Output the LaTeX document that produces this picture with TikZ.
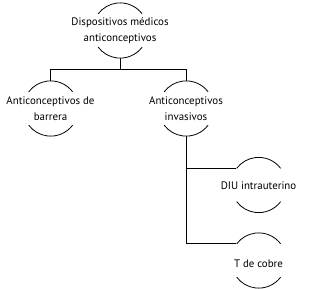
\documentclass[tikz,border=0pt]{standalone}
\usepackage{fontspec}
\setmainfont{PT Sans}
\usetikzlibrary{positioning,calc}

\tikzset{
  ring/.style={circle, minimum size=55pt, inner sep=0pt},
  lbl/.style={align=center, font=\fontsize{10.9}{16}\selectfont, inner sep=0pt},
  wire/.style={draw=black, line width=0.8pt}
}

\begin{document}
\begin{tikzpicture}[x=1pt, y=1pt]
\useasboundingbox (0,0) rectangle (311,-289);

% rings (only the top and bottom arcs get drawn)
\node[ring] (root) at (120,-30.5) {};
\node[ring] (barr) at (50.5,-108.5) {};
\node[ring] (inv)  at (186,-108.5) {};
\node[ring] (diu)  at (258.5,-185) {};
\node[ring] (tcu)  at (258.5,-260.5) {};

% texts
\node[lbl] (root-t) at (root) {Dispositivos médicos\\anticonceptivos};
\node[lbl] (barr-t) at (barr) {Anticonceptivos de\\barrera};
\node[lbl] (inv-t)  at (inv)  {Anticonceptivos\\invasivos};
\node[lbl] (diu-t)  at ($(diu)+(0,-1)$) {DIU intrauterino};
\node[lbl] (tcu-t)  at ($(tcu)+(0,-3)$) {T de cobre};

\foreach \n in {root,barr,inv,diu,tcu} {
  \draw[wire] (\n.37) arc[start angle=37, end angle=143, radius=27.5pt];
  \draw[wire] (\n.-37) arc[start angle=-37, end angle=-143, radius=27.5pt];
}

% connectors
\coordinate (fork) at ($(root.south)+(0,-11)$);
\draw[wire] (root.south) -- (fork);
\draw[wire] (fork) -| (barr.north);
\draw[wire] (fork) -| (inv.north);
\draw[wire] (inv.south) |- (diu.143);
\draw[wire] (inv.south) |- (tcu.143);
\end{tikzpicture}
\end{document}
